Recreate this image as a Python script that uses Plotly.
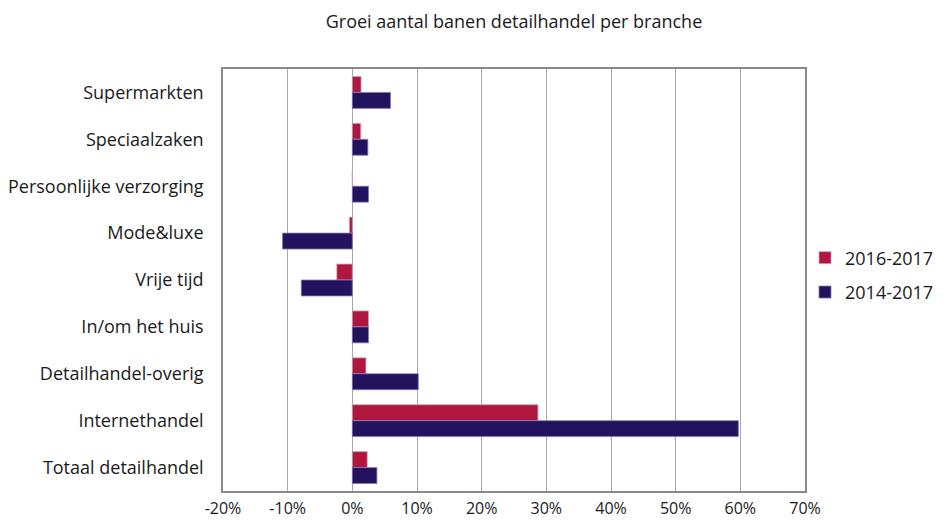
import plotly.graph_objects as go

_RED = "#b0173f"
_NAVY = "#23135f"
_GRID = "#a8a8a8"
_AXIS = "#8a8a8a"
_TEXT = "#1a1a1a"
_FONT = "'Open Sans', 'Noto Sans', sans-serif"

categories = [
    "Supermarkten",
    "Speciaalzaken",
    "Persoonlijke verzorging",
    "Mode&luxe",
    "Vrije tijd",
    "In/om het huis",
    "Detailhandel-overig",
    "Internethandel",
    "Totaal detailhandel",
]
growth_2016_2017 = [1.35, 1.3, 0.0, -0.45, -2.4, 2.5, 2.1, 28.7, 2.3]
growth_2014_2017 = [5.9, 2.4, 2.5, -10.8, -7.9, 2.5, 10.2, 59.7, 3.8]

x_ticks = [-20, -10, 0, 10, 20, 30, 40, 50, 60, 70]
x_ticktext = [f"{v}%" for v in x_ticks]

fig = go.Figure()
fig.add_trace(go.Bar(
    y=categories, x=growth_2016_2017, orientation="h", name="2016-2017",
    legendgroup="a",
    marker=dict(color=_RED, line=dict(color="#c8a0c0", width=0.8)),
))
fig.add_trace(go.Bar(
    y=categories, x=growth_2014_2017, orientation="h", name="2014-2017",
    legendgroup="b",
    marker=dict(color=_NAVY, line=dict(color="#8878b0", width=0.8)),
))

# page body adds an 8px margin, so the figure is sized to fit the window
W, H = 942, 513
fig.update_layout(
    width=W, height=H,
    paper_bgcolor="white", plot_bgcolor="white",
    font=dict(family=_FONT, color=_TEXT, size=16),
    margin=dict(l=215, r=145, t=61, b=30, autoexpand=False),
    title=dict(text="Groei aantal banen detailhandel per branche",
               x=506 / W, xanchor="center", y=1 - 14 / H, yanchor="middle",
               font=dict(size=18, color=_TEXT)),
    barmode="group", bargap=0.32, bargroupgap=0,
    legend=dict(x=1.0, xanchor="left", y=0.512, yanchor="middle",
                bgcolor="rgba(0,0,0,0)",
                font=dict(size=18, color=_TEXT), traceorder="grouped",
                tracegroupgap=8, itemwidth=30),
    xaxis=dict(
        range=[-20, 70], tickvals=x_ticks, ticktext=x_ticktext,
        showgrid=True, gridcolor=_GRID, gridwidth=1, zeroline=False,
        showline=True, linecolor=_AXIS, linewidth=1.5, mirror=True,
        tickfont=dict(size=16), ticks="", ticklabelstandoff=2,
    ),
    yaxis=dict(
        autorange="reversed", showgrid=False, zeroline=False,
        showline=True, linecolor=_AXIS, linewidth=1.5, mirror=True,
        tickfont=dict(size=18), ticks="", ticklabelstandoff=14,
    ),
)

fig.write_html("out.html")
